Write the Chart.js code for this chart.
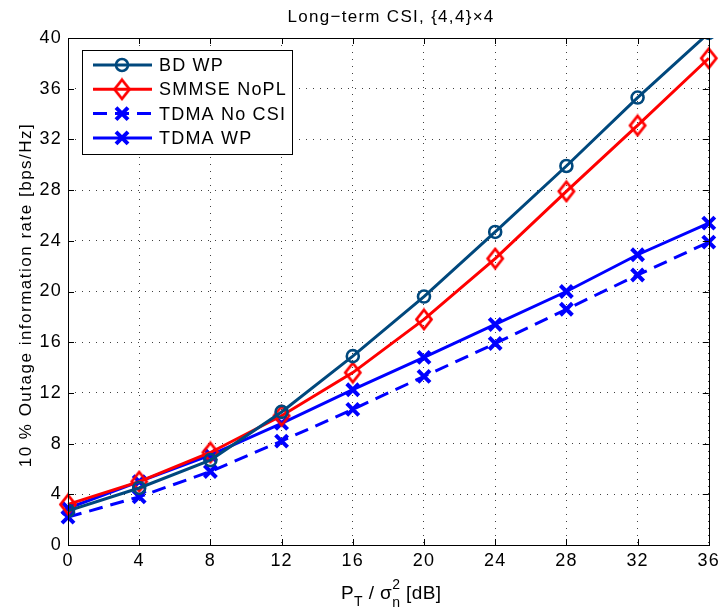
<!DOCTYPE html>
<html>
<head>
<meta charset="utf-8">
<script src="https://cdn.jsdelivr.net/npm/chart.js@4/dist/chart.umd.min.js"></script>
<style>
  body { margin: 0; background: #fff; }
  #wrap { width: 725px; height: 613px; }
</style>
</head>
<body>
<div id="wrap"><canvas id="myChart" width="725" height="613"></canvas></div>
<script>
// values
const snr = [0, 4, 8, 12, 16, 20, 24, 28, 32, 36];
const bdWP = [2.7, 4.5, 6.7, 10.5, 14.9, 19.6, 24.7, 29.9, 35.3, 40.4];
const smmseNoPL = [3.2, 5.0, 7.3, 10.2, 13.6, 17.8, 22.6, 27.9, 33.1, 38.4];
const tdmaNoCSI = [2.2, 3.8, 5.8, 8.2, 10.7, 13.3, 15.9, 18.6, 21.3, 23.9];
const tdmaWP = [2.9, 5.0, 7.1, 9.6, 12.25, 14.8, 17.4, 20.0, 22.9, 25.4];
const seriesNames = ['BD WP', 'SMMSE NoPL', 'TDMA No CSI', 'TDMA WP'];
const xTicks = [0, 4, 8, 12, 16, 20, 24, 28, 32, 36];
const yTicks = [0, 4, 8, 12, 16, 20, 24, 28, 32, 36, 40];

const FONT = 'Liberation Sans, Arial, Helvetica, sans-serif';
const pts = (ys) => snr.map((x, i) => ({ x: x, y: ys[i] }));

// matlab's diamond is a bit taller than wide
const diamond = (color) => {
  const c = document.createElement('canvas');
  c.width = 20; c.height = 24;
  const g = c.getContext('2d');
  g.strokeStyle = color;
  g.lineWidth = 2.8;
  g.beginPath();
  g.moveTo(10, 2.5); g.lineTo(17.5, 12); g.lineTo(10, 21.5); g.lineTo(2.5, 12);
  g.closePath();
  g.stroke();
  return c;
};

const mk = (label, ys, color, style, radius, bw, dash) => ({
  label: label,
  data: pts(ys),
  borderColor: color,
  backgroundColor: 'transparent',
  borderWidth: 3,
  borderDash: dash || [],
  pointStyle: style,
  pointRadius: radius,
  pointBorderWidth: bw,
  pointBorderColor: color,
  pointBackgroundColor: 'transparent',
  pointHoverRadius: radius,
  clip: false,
  tension: 0
});

const datasets = [
  mk(seriesNames[0], bdWP, 'rgb(0,72,125)', 'circle', 6, 2.6),
  mk(seriesNames[1], smmseNoPL, '#ff0000', diamond('#ff0000'), 9, 2.8),
  mk(seriesNames[2], tdmaNoCSI, '#0000ff', 'crossRot', 8.5, 4, [14, 8]),
  mk(seriesNames[3], tdmaWP, '#0000ff', 'crossRot', 8.5, 4)
];
datasets[0].clip = { left: 0, top: 0, right: 10, bottom: 0 };

// letter spacing so the Helvetica-ish text gets the same width as the original
const spacing = {
  id: 'spacing',
  beforeLayout(chart) { chart.ctx.letterSpacing = '1.2px'; },
  beforeDraw(chart) { chart.ctx.letterSpacing = '1.2px'; }
};

// box, inward ticks, title, axis titles and legend
const decor = {
  id: 'decor',
  afterDraw(chart) {
    const ctx = chart.ctx;
    const a = chart.chartArea;
    const xs = chart.scales.x, ys = chart.scales.y;
    ctx.save();
    ctx.strokeStyle = '#000';
    ctx.lineWidth = 1;
    ctx.setLineDash([]);
    ctx.beginPath();
    xTicks.forEach(v => {
      const px = Math.round(xs.getPixelForValue(v)) + 0.5;
      ctx.moveTo(px, a.bottom); ctx.lineTo(px, a.bottom - 6);
      ctx.moveTo(px, a.top); ctx.lineTo(px, a.top + 6);
    });
    yTicks.forEach(v => {
      const py = Math.round(ys.getPixelForValue(v)) + 0.5;
      ctx.moveTo(a.left, py); ctx.lineTo(a.left + 6, py);
      ctx.moveTo(a.right, py); ctx.lineTo(a.right - 6, py);
    });
    ctx.stroke();
    ctx.strokeRect(Math.round(a.left) + 0.5, Math.round(a.top) + 0.5,
      Math.round(a.right - a.left), Math.round(a.bottom - a.top));

    ctx.fillStyle = '#000';
    // title
    ctx.letterSpacing = '1.3px';
    ctx.font = '17px ' + FONT;
    ctx.textAlign = 'center';
    ctx.textBaseline = 'alphabetic';
    ctx.fillText('Long\u2212term CSI, {4,4}\u00d74', 391, 22);

    // y title
    ctx.save();
    ctx.translate(31, 295);
    ctx.rotate(-Math.PI / 2);
    ctx.letterSpacing = '1.5px';
    ctx.font = '17px ' + FONT;
    ctx.fillText('10 % Outage information rate [bps/Hz]', 0, 0);
    ctx.restore();

    // x title with sub/superscripts
    ctx.letterSpacing = '0.4px';
    ctx.textAlign = 'left';
    let x = 341;
    const base = 599;
    const big = '19px ' + FONT, small = '14px ' + FONT;
    ctx.font = big; ctx.fillText('P', x, base); x += ctx.measureText('P').width;
    ctx.font = small; ctx.fillText('T', x, base + 7); x += ctx.measureText('T').width;
    ctx.font = big; ctx.fillText(' / \u03c3', x, base); x += ctx.measureText(' / \u03c3').width;
    ctx.font = small; ctx.fillText('2', x, base - 10); ctx.fillText('n', x, base + 8);
    x += ctx.measureText('n').width;
    ctx.font = big; ctx.fillText(' [dB]', x, base);

    // legend
    const lx = 82, ly = 50, lw = 210, lh = 104;
    ctx.letterSpacing = '1.2px';
    ctx.fillStyle = '#fff';
    ctx.fillRect(lx, ly, lw, lh);
    ctx.strokeStyle = '#000';
    ctx.lineWidth = 1;
    ctx.strokeRect(lx + 0.5, ly + 0.5, lw, lh);
    ctx.font = '18px ' + FONT;
    ctx.textBaseline = 'middle';
    chart.data.datasets.forEach((ds, i) => {
      const y = 65 + i * 24.3;
      ctx.strokeStyle = ds.borderColor;
      ctx.lineWidth = ds.borderWidth;
      ctx.setLineDash(ds.borderDash);
      ctx.beginPath();
      ctx.moveTo(93, y); ctx.lineTo(152, y);
      ctx.stroke();
      ctx.setLineDash([]);
      ctx.lineWidth = ds.pointBorderWidth;
      ctx.fillStyle = 'rgba(0,0,0,0)';
      Chart.helpers.drawPoint(ctx, {
        pointStyle: ds.pointStyle, radius: ds.pointRadius,
        borderWidth: ds.pointBorderWidth, rotation: 0
      }, 122, y);
      ctx.fillStyle = '#000';
      ctx.fillText(ds.label, 159, y + 1);
    });
    ctx.restore();
  }
};

new Chart(document.getElementById('myChart'), {
  type: 'line',
  data: { datasets: datasets },
  plugins: [spacing, decor],
  options: {
    responsive: false,
    animation: false,
    events: [],
    layout: { padding: { top: 38, right: 13, left: 0, bottom: 0 } },
    plugins: { legend: { display: false }, title: { display: false }, tooltip: { enabled: false } },
    scales: {
      x: {
        type: 'linear',
        min: 0, max: 36,
        afterFit: (s) => { s.height = 68; },
        afterBuildTicks: (s) => { s.ticks = xTicks.map(v => ({ value: v })); },
        ticks: { color: '#000', font: { family: FONT, size: 18 }, padding: 5, maxRotation: 0, autoSkip: false },
        grid: { color: 'rgba(0,0,0,0.75)', lineWidth: 1, drawTicks: false },
        border: { display: false, dash: [1, 6] }
      },
      y: {
        type: 'linear',
        min: 0, max: 40,
        afterFit: (s) => { s.width = 68; },
        afterBuildTicks: (s) => { s.ticks = yTicks.map(v => ({ value: v })); },
        ticks: { color: '#000', font: { family: FONT, size: 18 }, padding: 6, autoSkip: false },
        grid: { color: 'rgba(0,0,0,0.75)', lineWidth: 1, drawTicks: false },
        border: { display: false, dash: [1, 6] }
      }
    }
  }
});
</script>
</body>
</html>
